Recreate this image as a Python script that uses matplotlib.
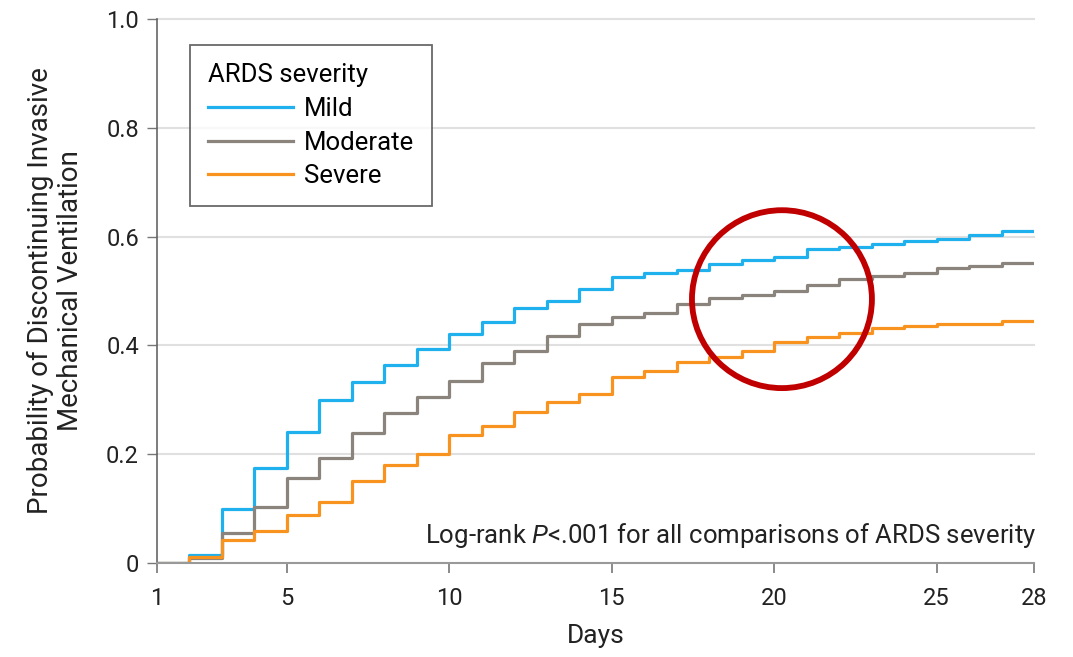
import numpy as np
import matplotlib
matplotlib.use('Agg')
import matplotlib.pyplot as plt
import matplotlib as mpl
from matplotlib.patches import Ellipse

mpl.rcParams['font.family'] = ['Roboto', 'DejaVu Sans']
mpl.rcParams['mathtext.fontset'] = 'custom'
mpl.rcParams['mathtext.rm'] = 'Roboto'
mpl.rcParams['mathtext.it'] = 'Roboto:italic'

# Kaplan-Meier style step values, one per day interval (day 1-2 ... day 27-28)
days = np.arange(1, 29)
mild = [0, 0.015, 0.099, 0.175, 0.24, 0.30, 0.333, 0.364, 0.394, 0.421,
        0.443, 0.469, 0.482, 0.504, 0.526, 0.533, 0.539, 0.55, 0.557, 0.563,
        0.577, 0.581, 0.587, 0.592, 0.596, 0.603, 0.61]
moderate = [0, 0.01, 0.055, 0.103, 0.156, 0.193, 0.239, 0.276, 0.306, 0.335,
            0.368, 0.39, 0.417, 0.439, 0.453, 0.46, 0.477, 0.487, 0.493, 0.50,
            0.511, 0.522, 0.528, 0.533, 0.542, 0.546, 0.551]
severe = [0, 0.011, 0.042, 0.058, 0.088, 0.113, 0.151, 0.18, 0.2, 0.235,
          0.252, 0.278, 0.296, 0.311, 0.342, 0.353, 0.369, 0.378, 0.39, 0.407,
          0.416, 0.423, 0.432, 0.436, 0.439, 0.439, 0.445]

series_names = ['Mild', 'Moderate', 'Severe']
series_colors = ['#1fb0ee', '#8b847c', '#f7931e']

x_ticks = [1, 5, 10, 15, 20, 25, 28]
y_ticks = [0, 0.2, 0.4, 0.6, 0.8, 1.0]
y_tick_labels = ['0', '0.2', '0.4', '0.6', '0.8', '1.0']

fig = plt.figure(figsize=(10.73, 6.57), dpi=100)
ax = fig.add_axes([157 / 1073, 1 - 563 / 657, 877 / 1073, 544 / 657])

for vals, name, col in zip([mild, moderate, severe], series_names, series_colors):
    y = list(vals) + [vals[-1]]
    ax.step(days, y, where='post', color=col, linewidth=2.3, label=name)

ax.set_xlim(1, 28)
ax.set_ylim(0, 1.0)
ax.set_xticks(x_ticks)
ax.set_yticks(y_ticks)
ax.set_yticklabels(y_tick_labels)

for yv in y_ticks[1:]:
    ax.axhline(yv, color='#e0e0e0', linewidth=1.5, zorder=0, clip_on=False)

for side in ['top', 'right']:
    ax.spines[side].set_visible(False)
ax.spines['left'].set_color('#666666')
ax.spines['bottom'].set_color('#999999')
ax.spines['left'].set_linewidth(1.2)
ax.spines['bottom'].set_linewidth(1.5)

ax.tick_params(axis='both', direction='out', labelsize=17, colors='#777777',
               labelcolor='#222222')
ax.tick_params(axis='x', length=7, width=1.2, pad=10)
ax.tick_params(axis='y', length=7, width=1.0, pad=6)

ax.set_xlabel('Days', fontsize=19, color='#222222', va='top')
ax.xaxis.set_label_coords(0.5, -0.113)
ax.set_ylabel('Probability of Discontinuing Invasive\nMechanical Ventilation',
              fontsize=20, color='#222222', linespacing=1.15)
ax.yaxis.set_label_coords(-0.083, 0.5)

ax.text(28.06, 0.051, r'Log-rank $P$<.001 for all comparisons of ARDS severity',
        ha='right', va='center', fontsize=18.5, color='#222222')

leg = ax.legend(loc='upper left', bbox_to_anchor=(0.0376, 0.952),
                borderaxespad=0, title='ARDS severity', fontsize=18.5,
                title_fontsize=18.5, handlelength=3.3, handletextpad=0.44,
                labelspacing=0.38, fancybox=False, edgecolor='#444444',
                borderpad=0.7, alignment='left')
leg.get_frame().set_linewidth(1.3)

# red highlight circle
circle = Ellipse((20.24, 0.485), width=5.54, height=0.327, fill=False,
                 edgecolor='#c00000', linewidth=4.2, zorder=5)
ax.add_patch(circle)

plt.savefig('out.png', dpi=100)
